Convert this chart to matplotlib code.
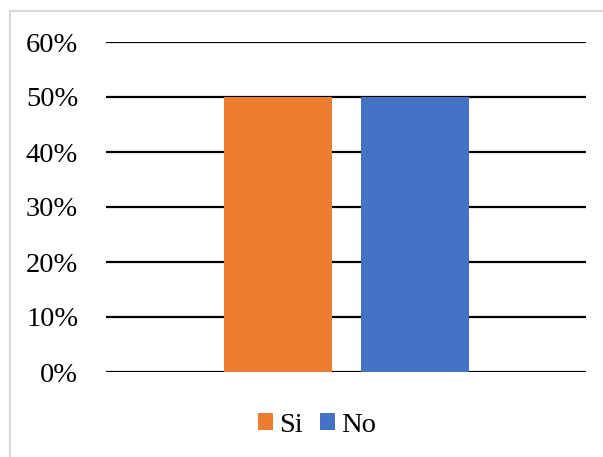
import matplotlib.pyplot as plt
from matplotlib.patches import Rectangle, Patch
from matplotlib.ticker import PercentFormatter

# Survey answers (share of respondents)
labels = ["Si", "No"]
values = [0.50, 0.50]
colors = ["#ED7D31", "#4472C4"]
y_ticks = [0.0, 0.1, 0.2, 0.3, 0.4, 0.5, 0.6]

plt.rcParams["font.family"] = ["Liberation Serif", "DejaVu Serif"]

W, H = 603, 457
fig = plt.figure(figsize=(W / 100, H / 100), dpi=100)

# light chart-area frame
fig.patches.append(Rectangle((10 / W, -0.1), 1.2, 1 - 11 / H + 0.1,
                             transform=fig.transFigure, fill=False,
                             edgecolor="#d9d9d9", linewidth=1.5, zorder=0))

ax = fig.add_axes([106 / W, (H - 372) / H, 480 / W, 330 / H])

offsets = [-0.1425, 0.1435]
width = 0.225
for off, v, c in zip(offsets, values, colors):
    ax.bar(off, v, width=width, color=c, zorder=3)

ax.set_xlim(-0.5, 0.5)
ax.set_ylim(0, 0.6)
ax.set_yticks(y_ticks)
ax.yaxis.set_major_formatter(PercentFormatter(1.0, decimals=0))
ax.set_xticks([])
ax.grid(axis="y", color="black", linewidth=1.6, zorder=1)
ax.tick_params(axis="y", length=0, pad=20, labelsize=20.5)
for s in ax.spines.values():
    s.set_visible(False)

handles = [Patch(facecolor=c, label=l) for l, c in zip(labels, colors)]
fig.legend(handles=handles, loc="center", bbox_to_anchor=(317 / W, 1 - 425 / H),
           ncol=2, frameon=False, fontsize=20.5, handlelength=0.53,
           handleheight=0.53, handletextpad=0.21, columnspacing=0.6)

fig.savefig("out.png", dpi=100)
